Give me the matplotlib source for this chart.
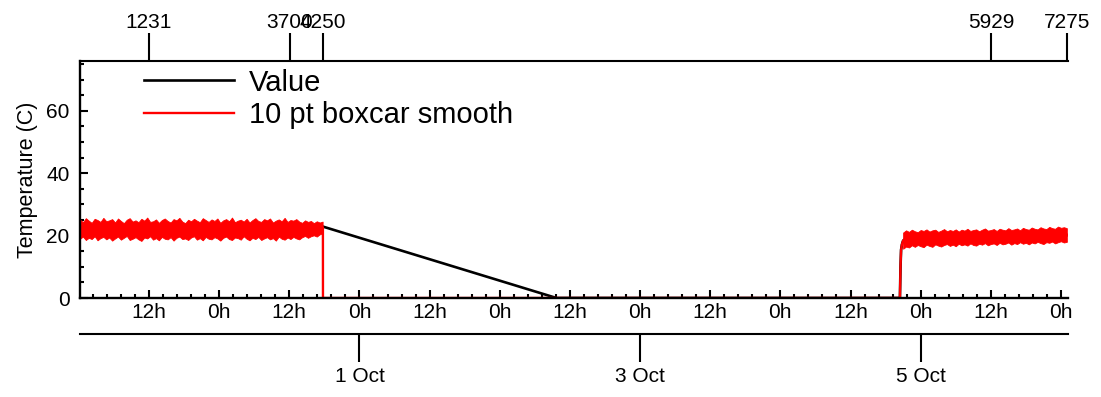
import numpy as np
import pandas as pd
import matplotlib
matplotlib.use("Agg")
import matplotlib.pyplot as plt
import matplotlib.dates as mdates
from matplotlib.ticker import MultipleLocator, FuncFormatter, FixedLocator

plt.rcParams['font.family'] = ['Liberation Sans', 'DejaVu Sans']

# ---------------- data (hours since 29 Sep 00:00) ----------------
base = pd.Timestamp('2014-09-29 00:00')

# segment 1: noisy ~22 C band, upper / lower envelope read every half hour
seg1_hours = np.arange(0.2, 41.75, 0.5)
seg1_upper = [25.2, 24.3, 25.6, 24.8, 24.1, 25.4, 25.0, 24.4, 25.7, 24.6, 24.9, 25.3, 24.2, 25.5, 24.7, 24.0, 25.1, 25.6, 24.5, 24.9,
              24.3, 25.4, 24.8, 25.8, 24.4, 24.6, 25.2, 24.1, 25.0, 25.5, 24.7, 24.2, 25.3, 24.9, 25.7, 24.5, 24.0, 25.1, 24.6, 25.4,
              24.8, 24.3, 25.6, 25.0, 24.4, 25.2, 24.7, 25.5, 24.1, 24.9, 25.3, 24.6, 25.8, 24.3, 24.8, 25.1, 24.5, 25.4, 24.2, 25.0,
              25.6, 24.7, 24.4, 25.3, 24.9, 25.5, 24.2, 24.8, 25.2, 24.6, 25.7, 24.4, 25.0, 24.8, 25.3, 24.5, 24.1, 24.9, 24.4, 24.7,
              24.0, 24.6, 24.2, 24.5]
seg1_lower = [19.0, 19.7, 18.6, 19.3, 18.9, 19.8, 18.5, 19.2, 19.6, 18.8, 19.4, 18.4, 19.1, 19.7, 18.7, 19.3, 19.9, 18.6, 19.0, 19.5,
              18.8, 18.3, 19.4, 19.1, 19.8, 18.7, 19.2, 18.5, 19.6, 19.0, 18.8, 19.5, 18.4, 19.3, 19.7, 18.9, 19.1, 18.6, 19.4, 19.8,
              18.7, 19.2, 18.5, 19.6, 19.0, 18.8, 19.5, 19.1, 18.4, 19.3, 19.7, 18.9, 18.6, 19.4, 19.2, 18.7, 19.8, 19.0, 18.5, 19.3,
              18.9, 19.6, 18.6, 19.1, 19.5, 18.8, 19.2, 18.4, 19.7, 19.0, 18.7, 19.4, 18.9, 19.6, 19.1, 18.8, 19.5, 19.9, 19.3, 19.8,
              20.1, 19.7, 20.4, 20.8]
drop_hour = 41.75

# gap: value falls linearly to 0, then stays at 0
gap_hours = [81.7, 140.45]
gap_values = [0.0, 0.0]

# rise after the gap
rise_hours = [140.55, 140.65, 140.8]
rise_values = [10.0, 15.5, 17.2]

# segment 3: noisy ~19 C band, envelope read every half hour
seg3_hours = np.arange(141.0, 169.01, 0.5)
seg3_upper = [21.0, 21.7, 21.2, 21.9, 21.4, 21.1, 21.8, 21.5, 22.0, 21.3, 21.7, 21.9, 21.2, 21.6, 22.1, 21.4, 21.8, 21.5, 22.0, 21.3,
              21.9, 21.6, 22.2, 21.5, 21.8, 22.0, 21.4, 21.9, 22.3, 21.6, 21.8, 22.1, 21.5, 22.2, 21.9, 21.7, 22.4, 21.8, 22.0, 22.3,
              21.7, 22.5, 22.1, 21.9, 22.6, 22.2, 22.0, 22.7, 22.3, 22.1, 22.8, 22.4, 22.2, 22.9, 22.5, 22.7, 22.4]
seg3_lower = [15.8, 16.5, 16.2, 16.9, 16.4, 17.0, 16.6, 16.3, 17.1, 16.7, 16.4, 17.2, 16.8, 16.5, 17.0, 17.3, 16.7, 17.1, 16.6, 17.4,
              16.9, 17.2, 16.8, 17.5, 17.0, 16.8, 17.4, 17.1, 17.6, 16.9, 17.3, 17.5, 17.0, 17.7, 17.2, 17.4, 17.8, 17.1, 17.6, 17.3,
              17.9, 17.4, 17.7, 17.2, 17.8, 17.5, 18.0, 17.6, 17.3, 17.9, 17.7, 18.1, 17.5, 17.9, 18.2, 17.8, 18.0]

# top axis: sample index ticks and the hour at which each sits
index_ticks = [1231, 3700, 4250, 5929, 7275]
index_tick_hours = [12.0, 36.1, 41.75, 156.1, 169.1]

# date axis
date_ticks = ['2014-10-01', '2014-10-03', '2014-10-05']
date_labels = ['1 Oct', '3 Oct', '5 Oct']

x_start_hour, x_end_hour = 0.2, 169.2
y_max = 76


def to_num(hours):
    return mdates.date2num(base + pd.to_timedelta(np.asarray(hours, float), unit='h'))


s1_mid = (np.array(seg1_upper) + np.array(seg1_lower)) / 2
s3_mid = (np.array(seg3_upper) + np.array(seg3_lower)) / 2

value_t = to_num(list(seg1_hours) + [drop_hour] + gap_hours + rise_hours + list(seg3_hours))
value_y = np.concatenate([s1_mid, [22.9], gap_values, rise_values, s3_mid])

smooth_t = to_num(list(seg1_hours) + [drop_hour, drop_hour + 0.01] + gap_hours + rise_hours + list(seg3_hours))
smooth_y = np.concatenate([s1_mid, [22.6, 0.0], gap_values, rise_values, s3_mid])

# ---------------- figure ----------------
W, H = 1101, 397
fig = plt.figure(figsize=(W / 100, H / 100), dpi=100)
L, R, T, B = 80, 1068, 61, 298
ax = fig.add_axes([L / W, (H - B) / H, (R - L) / W, (B - T) / H])

ax.plot(value_t, value_y, color='black', lw=1.9, label='Value', zorder=2.0)
ax.plot(smooth_t, smooth_y, color='#ff0000', lw=1.7, label='10 pt boxcar smooth', zorder=2.1)
ax.fill_between(to_num(seg1_hours), seg1_lower, seg1_upper, color='#ff0000', lw=0.6,
                edgecolor='#ff0000', zorder=2.2)
ax.fill_between(to_num(seg3_hours), seg3_lower, seg3_upper, color='#ff0000', lw=0.6,
                edgecolor='#ff0000', zorder=2.2)

ax.set_xlim(to_num([x_start_hour])[0], to_num([x_end_hour])[0])
ax.set_ylim(0, y_max)

for s in ['right', 'top']:
    ax.spines[s].set_visible(False)
for s in ['left', 'bottom']:
    ax.spines[s].set_linewidth(1.7)
    ax.spines[s].set_zorder(3)

ax.yaxis.set_major_locator(FixedLocator([0, 20, 40, 60]))
ax.yaxis.set_minor_locator(MultipleLocator(5))
ax.xaxis.set_major_locator(MultipleLocator(0.5))
ax.xaxis.set_minor_locator(MultipleLocator(0.1))
ax.xaxis.set_major_formatter(FuncFormatter(lambda x, p: f"{mdates.num2date(x).hour}h"))

ax.tick_params(which='both', direction='in', width=1.5, labelsize=15)
ax.tick_params(which='major', length=6)
ax.tick_params(which='minor', length=3)
ax.tick_params(axis='y', which='major', pad=7.5)
ax.tick_params(axis='x', which='major', pad=3.5)

ax.set_ylabel('Temperature (C)', fontsize=15.5, labelpad=6)

# top index axis
top = ax.secondary_xaxis('top')
top.set_xticks(to_num(index_tick_hours), labels=[str(i) for i in index_ticks])
top.xaxis.set_minor_locator(FixedLocator([]))
top.tick_params(direction='out', length=20, width=1.5, labelsize=15, pad=1)
top.spines['top'].set_linewidth(1.5)

# date axis
bot = ax.secondary_xaxis(-(334 - B) / (B - T))
bot.set_xticks(mdates.date2num(pd.to_datetime(date_ticks)), labels=date_labels)
bot.xaxis.set_minor_locator(FixedLocator([]))
bot.tick_params(direction='out', length=20, width=1.5, labelsize=15, pad=4)
bot.spines['bottom'].set_linewidth(1.5)

ax.legend(loc='upper left', bbox_to_anchor=((144 - L) / (R - L), 0.968),
          frameon=False, fontsize=21, handlelength=3.1, handletextpad=0.5,
          labelspacing=0.15, borderpad=0, borderaxespad=0)

fig.savefig('out.png', dpi=100)
